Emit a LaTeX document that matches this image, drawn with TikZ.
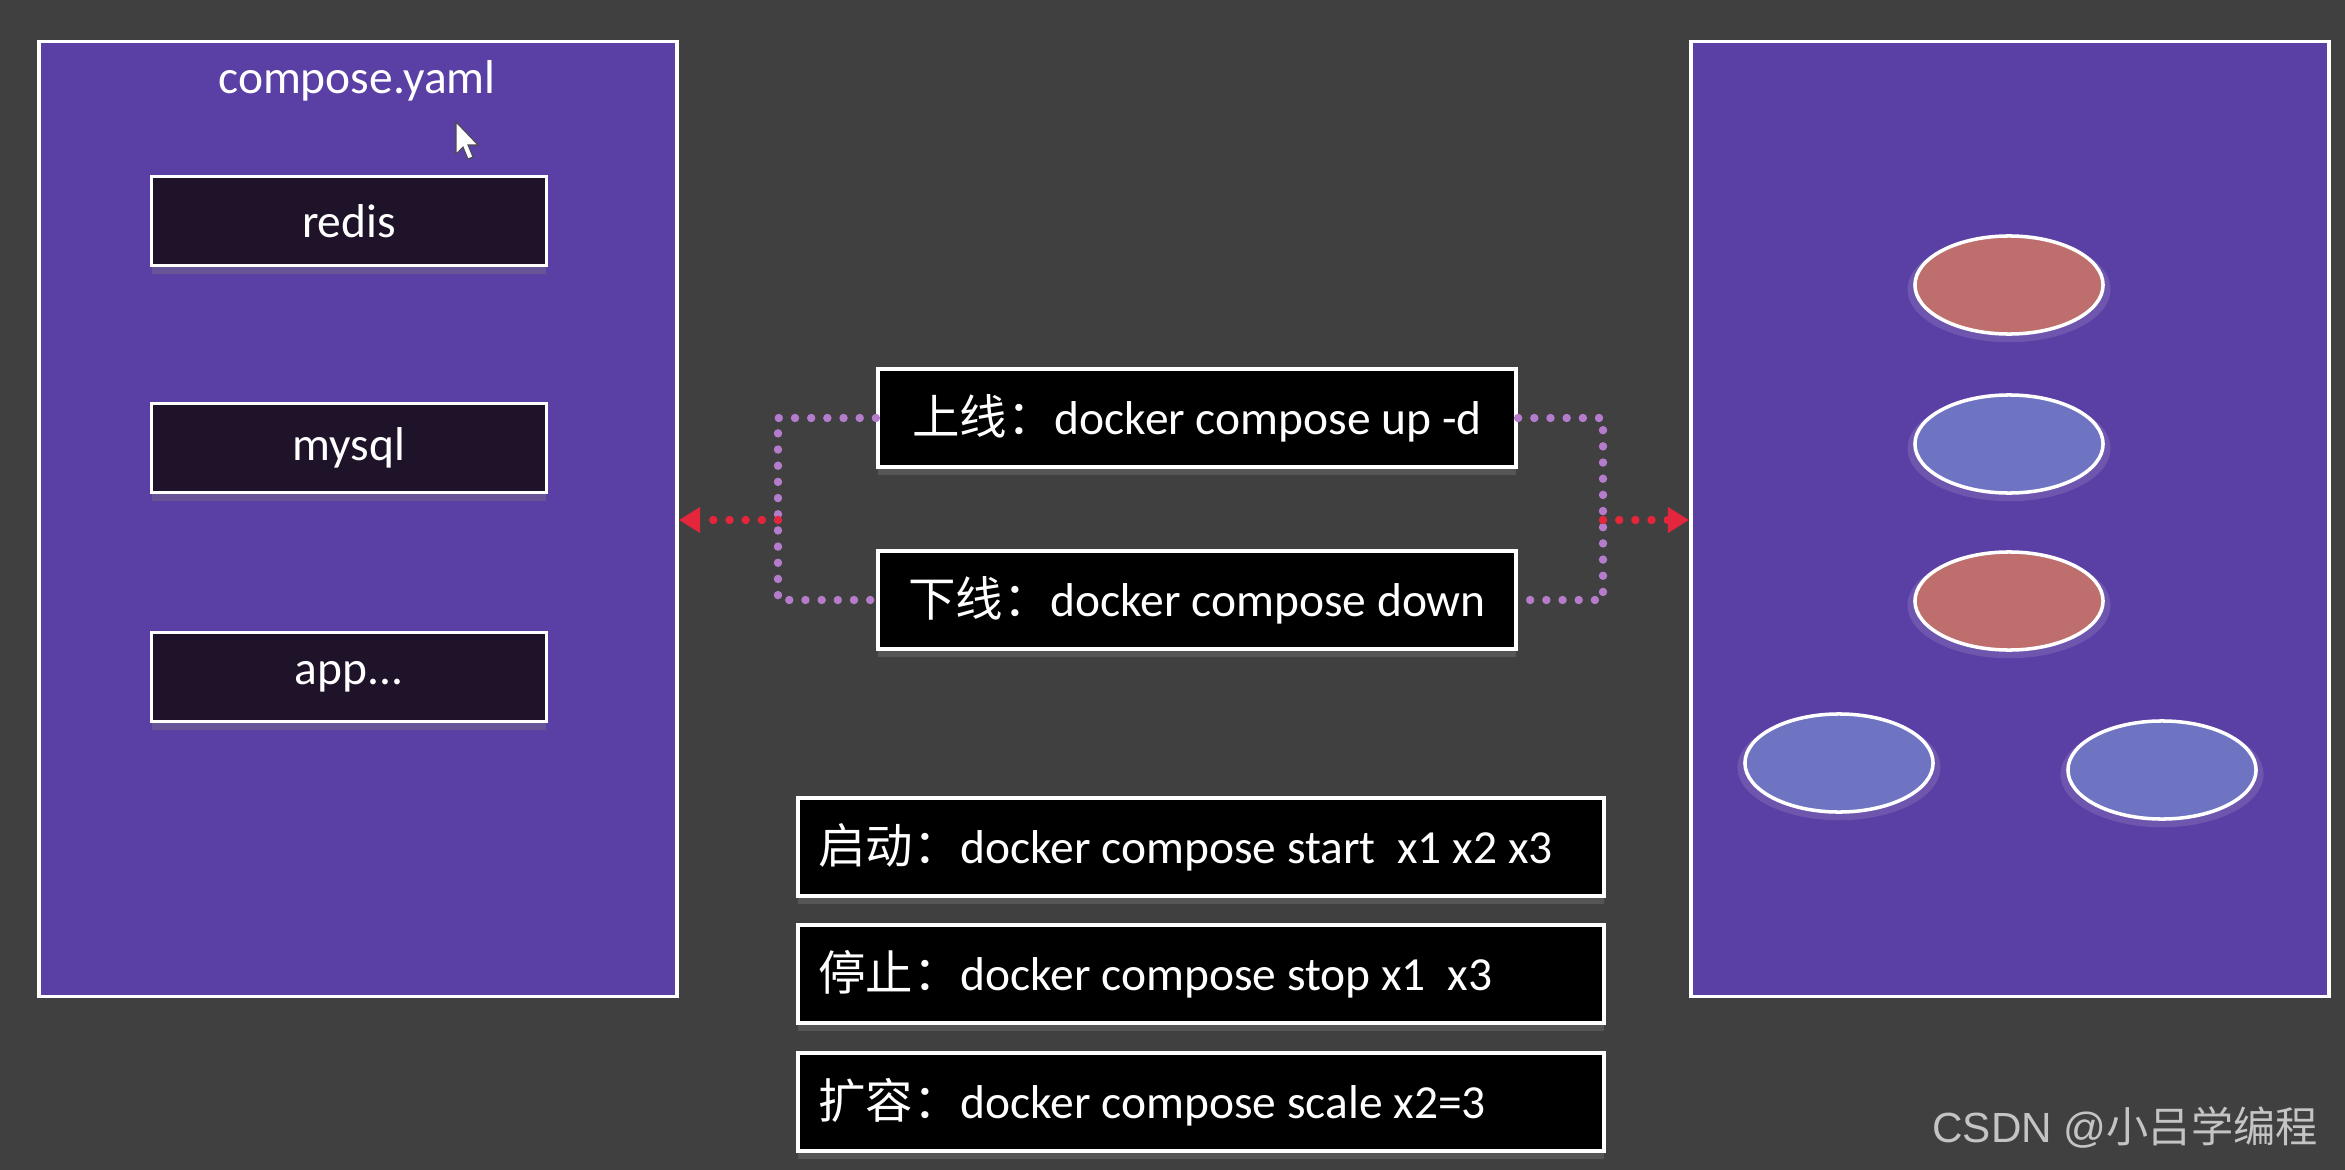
\documentclass[tikz,border=0pt]{standalone}
\usepackage{fontspec}
\setmainfont{Carlito}
\newfontfamily\cjk{Noto Sans CJK SC}
\newfontfamily\marklatin{Liberation Sans}
\usetikzlibrary{arrows.meta, shapes.geometric, shadows}

\definecolor{bgGray}{HTML}{404040}
\definecolor{panelPurple}{HTML}{5A3FA5}
\definecolor{svcDark}{HTML}{1F1329}
\definecolor{dotLilac}{HTML}{B47CCB}
\definecolor{arrowRed}{HTML}{E3263B}
\definecolor{podRed}{HTML}{BF6E6E}
\definecolor{podBlue}{HTML}{6E74C2}
\definecolor{markGray}{HTML}{C4C4C4}

\newcommand{\zh}[1]{{\cjk #1}}
\newcommand{\cmdline}[1]{\makebox[7.65cm][l]{#1}}

\tikzset{
  panel/.style={draw=white, line width=1pt, fill=panelPurple, minimum width=6.38cm, minimum height=9.54cm, inner sep=0pt},
  svc/.style={draw=white, line width=0.9pt, fill=svcDark, text=white, minimum width=3.94cm, minimum height=0.89cm, inner sep=0pt,
    drop shadow={opacity=0.35, shadow xshift=0pt, shadow yshift=-0.08cm}},
  cmd/.style={draw=white, line width=1.1pt, fill=black, text=white, minimum height=0.98cm, inner ysep=0pt,
    drop shadow={opacity=0.35, shadow xshift=0pt, shadow yshift=-0.08cm}},
  cmdwide/.style={cmd, minimum width=8.05cm, inner xsep=0.2cm},
  pod/.style={ellipse, draw=white, line width=1pt, minimum width=1.88cm, minimum height=0.98cm,
    drop shadow={fill=white, opacity=0.12, shadow xshift=0pt, shadow yshift=-0.04cm, shadow scale=1.08}},
  link/.style={dotLilac, line width=2.4pt, line cap=round, dash pattern=on 0pt off 4.6pt},
  push/.style={arrowRed, line width=2.4pt, line cap=round, dash pattern=on 0pt off 4.6pt, -{Triangle[length=6pt,width=7pt]}},
}

\begin{document}
\begin{tikzpicture}[x=0.01cm, y=-0.01cm, font=\fontsize{13.5}{16}\selectfont]
    % background
    \fill[bgGray] (0,0) rectangle (2345,1170);
    \useasboundingbox (0,0) rectangle (2345,1170);

    % compose file panel
    \node[panel] (compose) at (358,519) {};
    \node[text=white] (title) at (357,81) {compose.yaml};
    \fill[white, draw=black!70, line width=0.3pt] (456,122) -- (456,154) -- (463,147) -- (468,159) -- (473,157) -- (468,145) -- (478,145) -- cycle;
    \node[svc] (redis) at (349,221) {redis};
    \node[svc] (mysql) at (349,448) {mysql};
    \node[svc] (app) at (349,677) {app...};

    % running host panel
    \node[panel] (host) at (2010,519) {};
    \node[pod, fill=podRed] (c1) at (2009,285) {};
    \node[pod, fill=podBlue] (c2) at (2009,444) {};
    \node[pod, fill=podRed] (c3) at (2009,601) {};
    \node[pod, fill=podBlue] (c4) at (1839,763) {};
    \node[pod, fill=podBlue] (c5) at (2162,770) {};

    % up / down commands
    \node[cmd, minimum width=6.38cm] (up) at (1197,418) {\zh{上线：}docker compose up -d};
    \node[cmd, minimum width=6.38cm] (down) at (1197,600) {\zh{下线：}docker compose down};

    % dotted links and arrows
    \coordinate (jl) at (778,520);
    \coordinate (jr) at (1603,520);
    \draw[link] (up.west) -- (jl |- up.west) -- (jl |- down.west) -- (down.west);
    \draw[link] (up.east) -- (jr |- up.east) -- (jr |- down.east) -- (down.east);
    \draw[push] (jl) -- (compose.east |- jl);
    \draw[push] (jr) -- (host.west |- jr);

    % other commands
    \node[cmdwide] (start) at (1201,847) {\cmdline{\zh{启动：}docker compose start\ \ x1 x2 x3}};
    \node[cmdwide] (stop) at (1201,974) {\cmdline{\zh{停止：}docker compose stop x1\ \ x3}};
    \node[cmdwide] (scale) at (1201,1102) {\cmdline{\zh{扩容：}docker compose scale x2=3}};

    % watermark
    \node[anchor=east, text=markGray, font=\fontsize{12}{15}\selectfont] (mark) at (2330,1127) {\marklatin CSDN @\zh{小吕学编程}};
\end{tikzpicture}
\end{document}
